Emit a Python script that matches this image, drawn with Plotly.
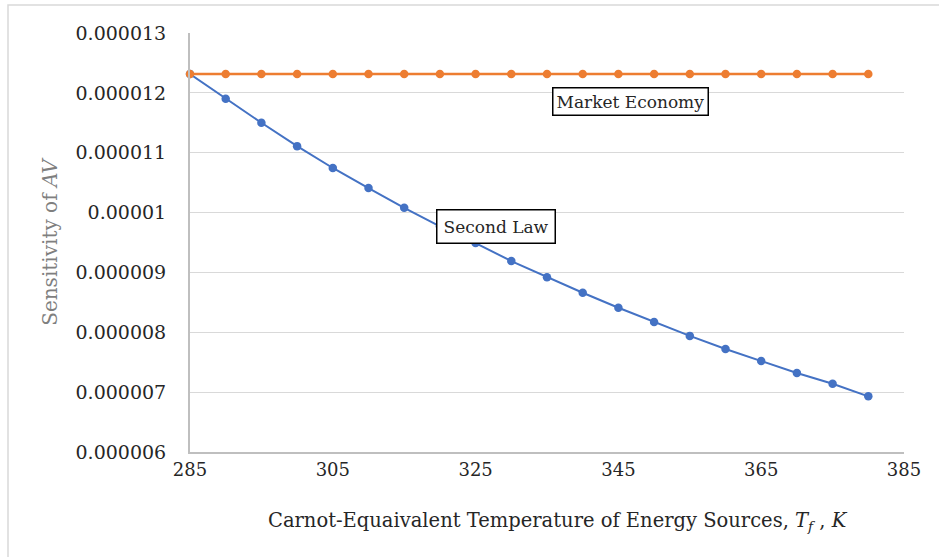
import plotly.graph_objects as go

temps = [285, 290, 295, 300, 305, 310, 315, 320, 325, 330,
         335, 340, 345, 350, 355, 360, 365, 370, 375, 380]
second_law = [12.315, 11.90, 11.50, 11.11, 10.745, 10.41, 10.08, 9.77, 9.49, 9.19,
              8.92, 8.66, 8.41, 8.17, 7.94, 7.72, 7.52, 7.32, 7.14, 6.93]
market_economy = [12.315] * 20
second_law = [v * 1e-6 for v in second_law]
market_economy = [v * 1e-6 for v in market_economy]

ytick_vals = [6e-6, 7e-6, 8e-6, 9e-6, 10e-6, 11e-6, 12e-6, 13e-6]
ytick_text = ["0.000006", "0.000007", "0.000008", "0.000009", "0.00001",
              "0.000011", "0.000012", "0.000013"]
xtick_vals = [285, 305, 325, 345, 365, 385]

FONT = "DejaVu Serif"
BLUE = "#4472C4"
ORANGE = "#ED7D31"

fig = go.Figure()
fig.add_trace(go.Scatter(x=temps, y=second_law, mode="lines+markers", name="Second Law",
                         line=dict(color=BLUE, width=2), marker=dict(color=BLUE, size=8.5),
                         cliponaxis=False))
fig.add_trace(go.Scatter(x=temps, y=market_economy, mode="lines+markers", name="Market Economy",
                         line=dict(color=ORANGE, width=2.5), marker=dict(color=ORANGE, size=8.5),
                         cliponaxis=False))

W, H = 939, 557
L, R, T, B = 190, 35, 33, 105
pw, ph = W - L - R, H - T - B

fig.update_layout(
    width=W, height=H,
    margin=dict(l=L, r=R, t=T, b=B),
    paper_bgcolor="white", plot_bgcolor="white",
    showlegend=False,
    font=dict(family=FONT, size=18, color="#262626"),
    xaxis=dict(range=[285, 385], tickvals=xtick_vals, showgrid=False,
               showline=True, linecolor="#BFBFBF", linewidth=2, zeroline=False,
               ticks="", tickfont=dict(size=18, color="#262626")),
    yaxis=dict(range=[6e-6, 13e-6], tickvals=ytick_vals, ticktext=ytick_text,
               showgrid=True, gridcolor="#D9D9D9", gridwidth=1,
               showline=True, linecolor="#BFBFBF", linewidth=2, zeroline=False,
               ticks="", ticklabelstandoff=18, tickfont=dict(size=19, color="#262626"),
               title=dict(text="Sensitivity of <i>AV</i>", font=dict(size=20, color="#7F7F7F"),
                          standoff=13)),
    annotations=[
        dict(x=(558 - L) / pw, y=(H - B - 521) / ph, xref="paper", yref="paper",
             xanchor="center", yanchor="middle",
             text="Carnot-Equaivalent Temperature of Energy Sources, <i>T<sub>f</sub></i> , <i>K</i>",
             showarrow=False, font=dict(size=19.5, color="#262626")),
        dict(x=(630 - L) / pw, y=(H - B - 102) / ph, xref="paper", yref="paper",
             xanchor="center", yanchor="middle",
             text="Market Economy", showarrow=False, font=dict(size=17, color="#262626"),
             bgcolor="white", bordercolor="black", borderwidth=1.5, borderpad=3),
        dict(x=(496 - L) / pw, y=(H - B - 226) / ph, xref="paper", yref="paper",
             xanchor="center", yanchor="middle",
             text="Second Law", showarrow=False, font=dict(size=17, color="#262626"),
             bgcolor="white", bordercolor="black", borderwidth=1.5, borderpad=6),
    ],
    shapes=[
        dict(type="rect", xref="paper", yref="paper",
             x0=(8 - L) / pw, x1=(960 - L) / pw, y0=(H - B - 580) / ph, y1=(H - B - 5) / ph,
             line=dict(color="#D9D9D9", width=1.5), fillcolor="rgba(0,0,0,0)", layer="below"),
    ],
)

fig.write_html("out.html", config={"displayModeBar": False},
               post_script="document.body.style.margin='0';")
